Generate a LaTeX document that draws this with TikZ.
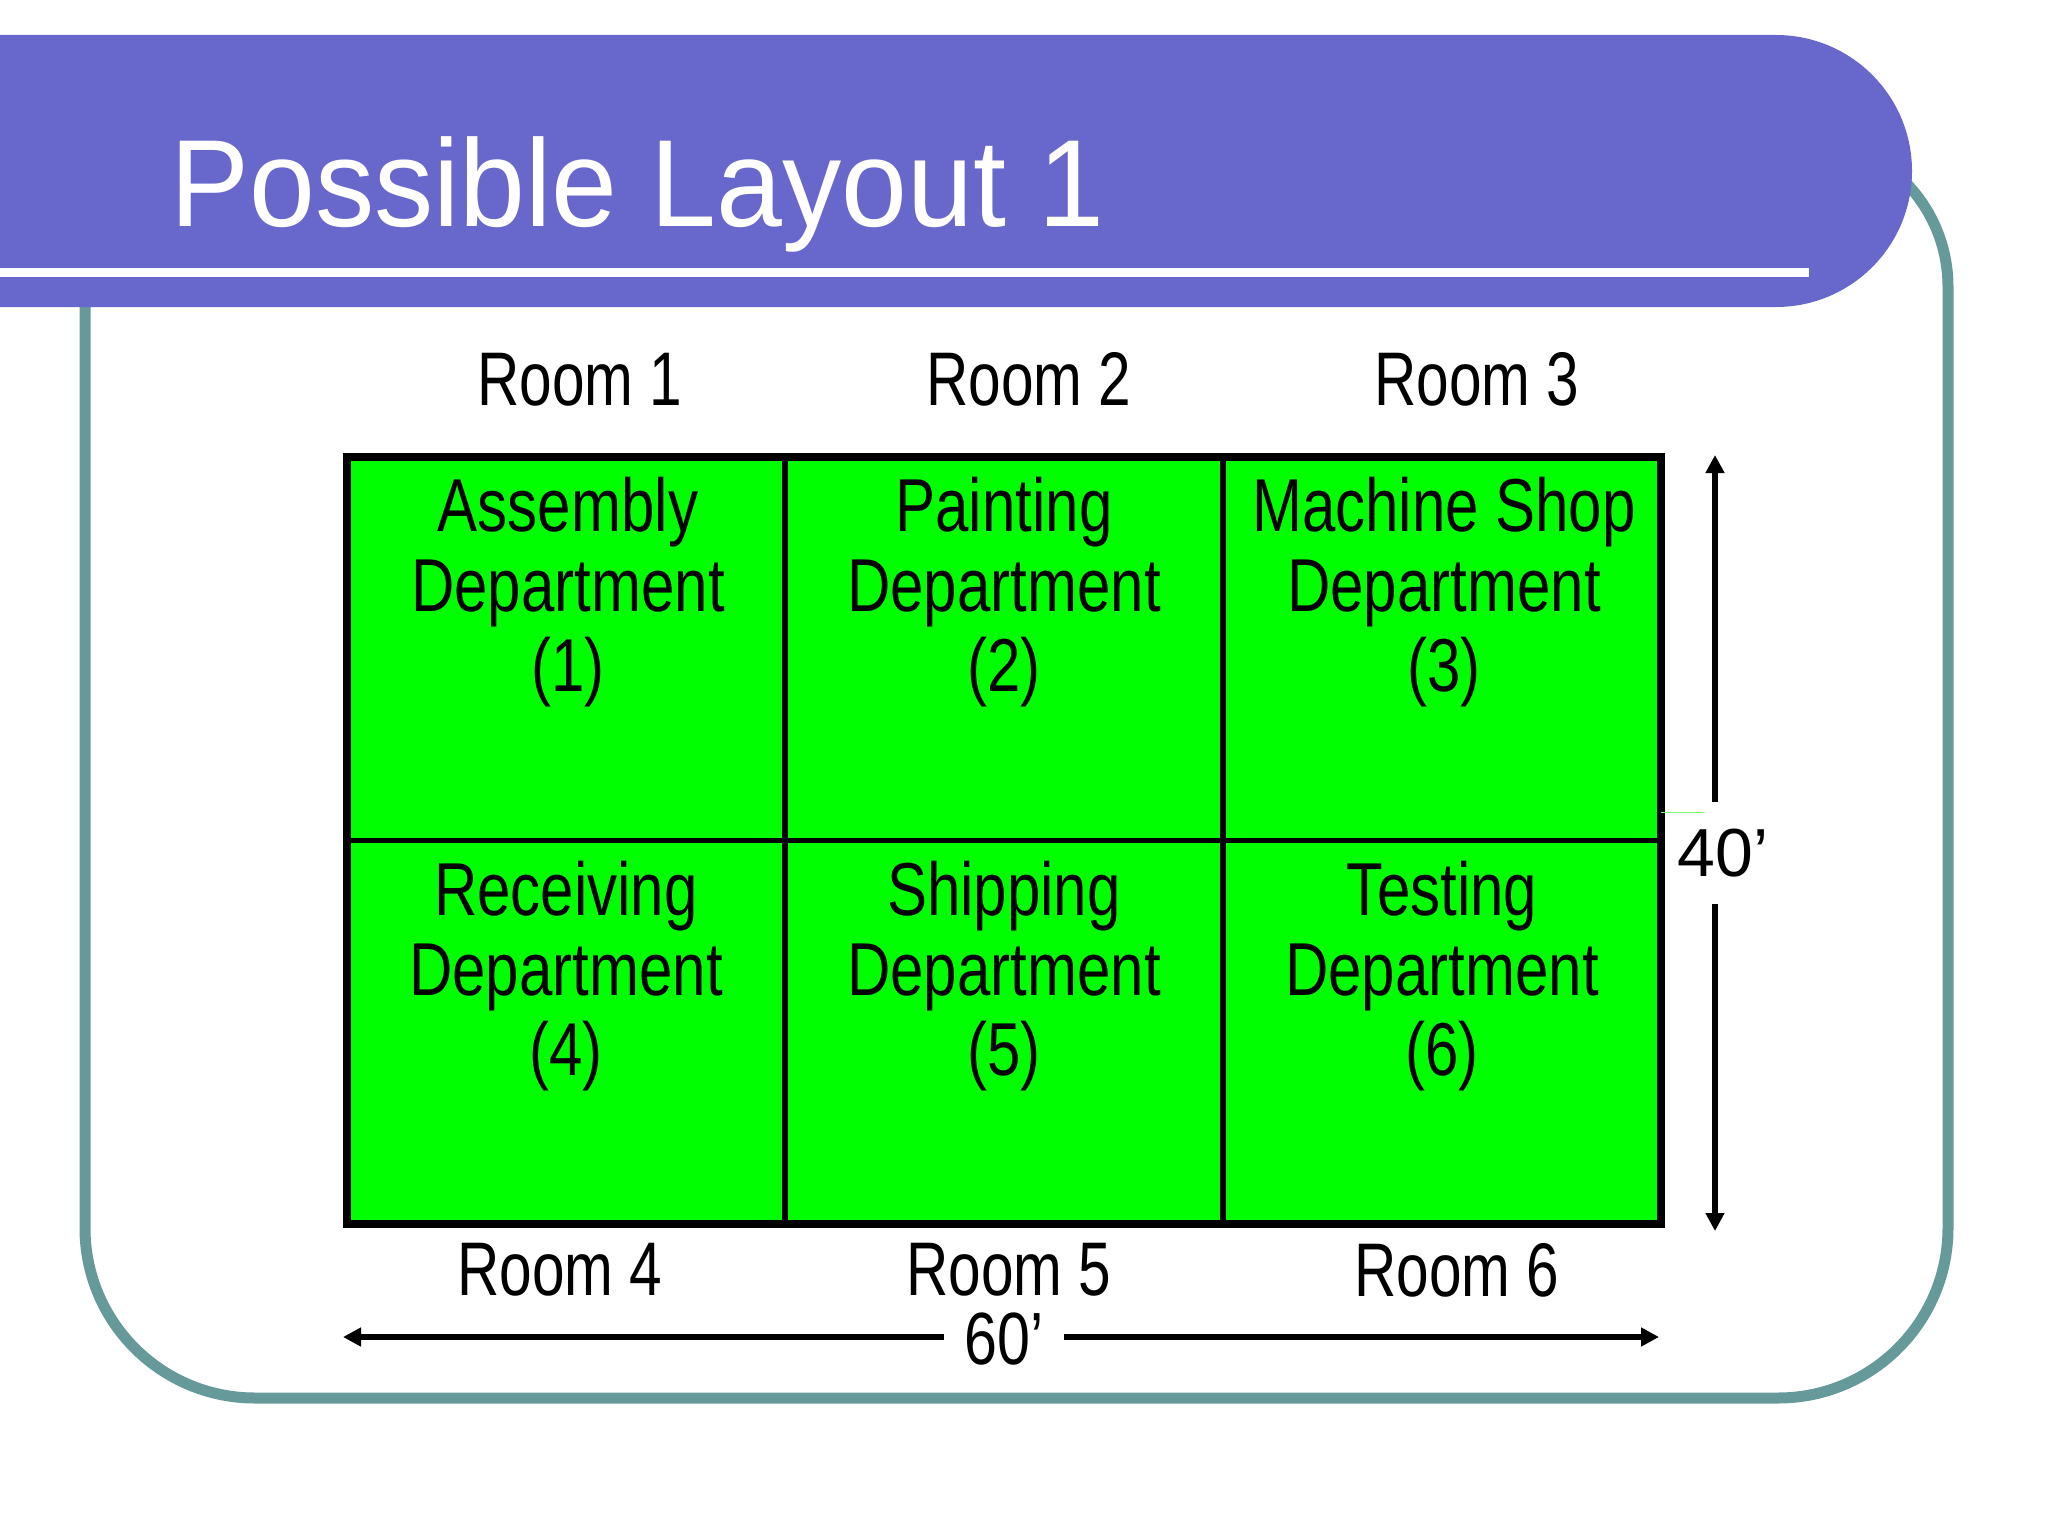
\documentclass[tikz,border=0pt]{standalone}
\usepackage{fontspec}
\setmainfont{Liberation Sans}
\newfontfamily\narrow[FakeStretch=0.8]{Liberation Sans}
\newfontfamily\romfont[FakeStretch=0.77]{Liberation Sans}
\newfontfamily\titel[FakeStretch=0.955]{Liberation Sans}
\usetikzlibrary{arrows.meta, positioning}
\definecolor{bar}{RGB}{104,104,204}
\definecolor{ramme}{RGB}{102,153,153}
\definecolor{gronn}{RGB}{0,255,0}

\begin{document}
\begin{tikzpicture}[
    x=1pt, y=-1pt,
    node distance = 0pt and 0pt,
    celle/.style = {rectangle, draw, line width=5.5pt, fill=gronn,
      minimum width=438pt, minimum height=383.5pt, inner sep=0pt, outer sep=0pt},
    tekst/.style = {align=center, inner sep=0pt,
      font=\narrow\fontsize{75pt}{80pt}\selectfont},
    rom/.style = {inner sep=0pt, font=\romfont\fontsize{76pt}{80pt}\selectfont},
    kant/.style = {ramme, line width=11pt},
    maal/.style = {line width=6.5pt, -{Triangle[length=18pt, width=18pt]}}
    ]
  \useasboundingbox (0,0) rectangle (2048,1536);

  % frame and title bar
  \draw[kant, rounded corners=170pt] (85,280) -- (85,1398) -- (1948,1398) -- (1948,600);
  \draw[kant, rounded corners=150pt] (1948,600) -- (1948,137) -- (1600,137);
  \fill[bar, rounded corners=136pt] (-300,35) -- (1912,35) -- (1912,307) -- (-300,307) -- cycle;
  \fill[white] (0,268) rectangle (1809,277);
  \node[anchor=base west, text=white, inner sep=0pt,
    font=\titel\fontsize{124pt}{130pt}\selectfont] (tittel) at (170,226) {Possible Layout 1};

  \node[celle] (c1) at (566,648.75) {} ;
  \node[celle] (c2) [right=of c1] {} ;
  \node[celle] (c3) [right=of c2] {} ;
  \node[celle] (c4) [below=of c1] {} ;
  \node[celle] (c5) [right=of c4] {} ;
  \node[celle] (c6) [right=of c5] {} ;
  \draw[line width=7.5pt] (c1.north west) rectangle (c6.south east);
  \draw[gronn!55, line width=1pt] ([yshift=-164pt]c3.east) -- ++(43,0);

  \node[tekst] (t1) [below=20pt of c1.north, xshift=2pt] {Assembly\\Department\\(1)} ;
  \node[tekst] (t2) [below=20pt of c2.north] {Painting\\Department\\(2)} ;
  \node[tekst] (t3) [below=20pt of c3.north, xshift=2pt] {Machine Shop\\Department\\(3)} ;
  \node[tekst] (t4) [below=20pt of c4.north] {Receiving\\Department\\(4)} ;
  \node[tekst] (t5) [below=20pt of c5.north] {Shipping\\Department\\(5)} ;
  \node[tekst] (t6) [below=20pt of c6.north] {Testing\\Department\\(6)} ;

  \node[rom] (r1) [above=51pt of c1, xshift=14pt] {Room 1} ;
  \node[rom] (r2) [above=51pt of c2, xshift=25pt] {Room 2} ;
  \node[rom] (r3) [above=51pt of c3, xshift=35pt] {Room 3} ;
  \node[rom] (r4) [below=19pt of c4, xshift=-6pt] {Room 4} ;
  \node[rom] (r5) [below=19pt of c5, xshift=5pt] {Room 5} ;
  \node[rom] (r6) [below=19pt of c6, xshift=15pt] {Room 6} ;

  % 40' and 60'
  \coordinate (htop) at (1715,455) ;
  \coordinate (hbot) at (1715,1231) ;
  \node[inner xsep=0pt, inner ysep=27pt, font=\fontsize{68pt}{72pt}\selectfont] (h) at (1723,853) {40’} ;
  \coordinate (wl) at (343,1337) ;
  \coordinate (wr) at (1659,1337) ;
  \node[rom, font=\narrow\fontsize{74pt}{78pt}\selectfont, inner xsep=20pt] (w) at (1004,1339) {60’} ;

  \draw[maal]
  (h.north -| htop) -- (htop) ;
  \draw[maal]
  (h.south -| hbot) -- (hbot) ;
  \draw[maal]
  (w.west |- wl) -- (wl) ;
  \draw[maal]
  (w.east |- wr) -- (wr) ;
\end{tikzpicture}
\end{document}
